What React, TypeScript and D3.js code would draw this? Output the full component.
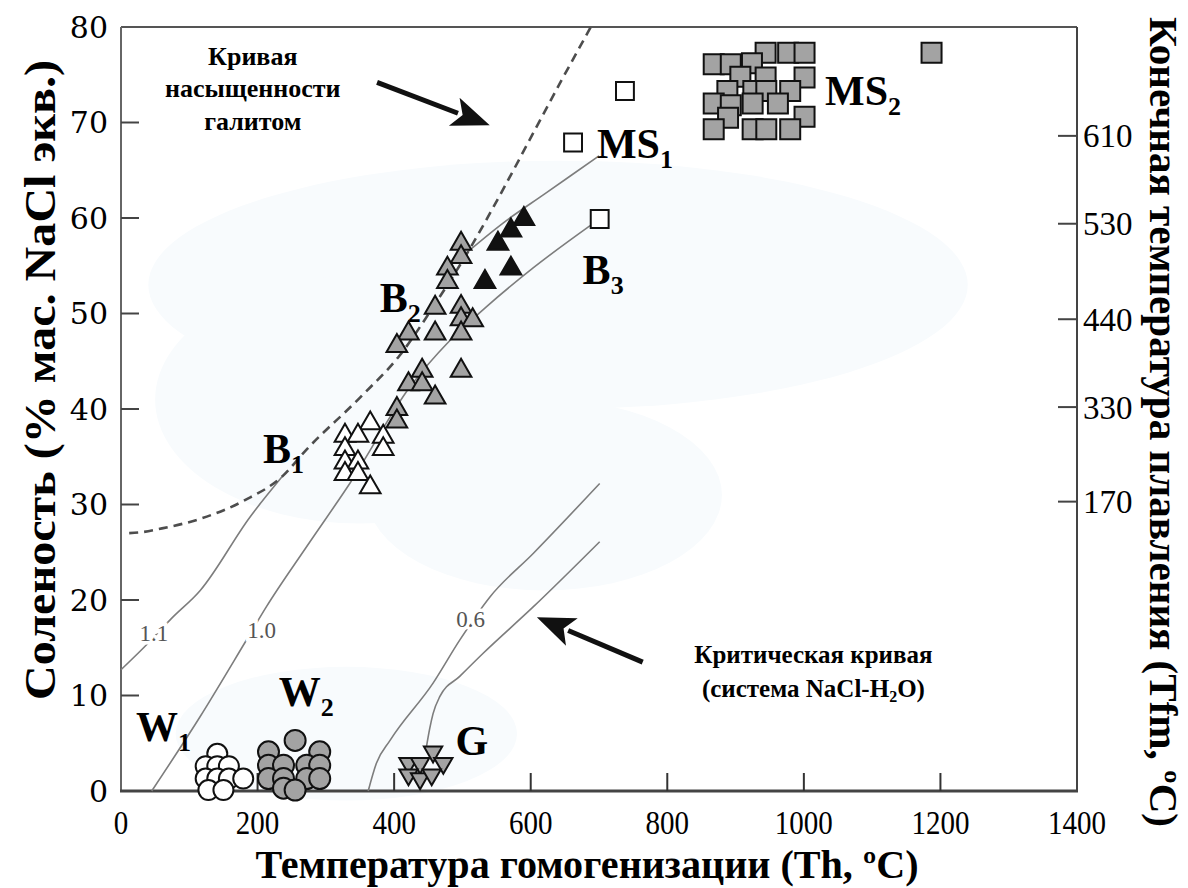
import * as d3 from "d3";
import * as React from "react";

type Pt = [number, number];

// axes
const xTicks = [0, 200, 400, 600, 800, 1000, 1200, 1400];
const yTicks = [0, 10, 20, 30, 40, 50, 60, 70, 80];
const tfmLabels = ["170", "330", "440", "530", "610"];
const tfmAt = [30.3, 40.2, 49.4, 59.4, 68.6]; // salinity where each Tfm tick sits

// curves (Th, salinity)
const haliteCurve: Pt[] = [[12, 27], [30, 27.1], [60, 27.5], [116, 28.5], [180, 30.4], [237, 33], [271, 35.7], [350, 41.2], [408, 45.6], [460, 51], [511, 56.8], [555, 62.4], [603, 68.8], [645, 74.4], [688, 80]];
const iso11: Pt[] = [[0, 12.7], [40, 15.5], [73, 18], [116, 21], [189, 28.7], [237, 33]];
const iso10: Pt[] = [[45, 0], [116, 7.8], [182, 15.6], [213, 19.3], [272, 25.6], [335, 32.2], [423, 42.3], [482, 47.2], [535, 50.7], [604, 54.8], [687, 59.2]];
const isoUpper: Pt[] = [[500, 56], [560, 59.5], [620, 62.5], [700, 66.5]];
const iso06: Pt[] = [[362, 0], [374, 2.9], [394, 5.3], [457, 11.3], [496, 15.8], [540, 20.3], [604, 24.9], [701, 32.2]];
const criticalCurve: Pt[] = [[447, 4.5], [452, 6.5], [457, 8.1], [467, 9.9], [496, 12], [530, 14.4], [604, 19.3], [701, 26.1]];

const isoLabels = ["1.1", "1.0", "0.6"];
const isoLabelAt: Pt[] = [[48, 16.6], [206, 16.9], [512, 18]];

// inclusions
const w1: Pt[] = [[141, 3.9], [124, 2.6], [141, 2.6], [158, 2.6], [124, 1.3], [141, 1.3], [158, 1.3], [179, 1.3], [128, 0.1], [150, 0.1]];
const w2: Pt[] = [[255, 5.3], [216, 4.1], [291, 4.1], [216, 2.7], [238, 2.7], [272, 2.7], [291, 2.7], [216, 1.3], [238, 1.3], [272, 1.3], [291, 1.3], [238, 0.3], [255, 0.1]];
const gPts: Pt[] = [[457, 4.1], [421, 2.9], [438, 2.9], [472, 2.9], [421, 1.7], [438, 1.3], [455, 1.7]];
const b1: Pt[] = [[365, 38.5], [328, 37.2], [347, 37.2], [384, 37.1], [384, 35.8], [328, 35.8], [328, 34.4], [347, 34.4], [328, 33.2], [347, 33.2], [365, 31.8]];
const b2: Pt[] = [[498, 57.3], [498, 55.9], [478, 54.7], [478, 53.3], [460, 50.6], [498, 50.7], [498, 49.4], [515, 49.3], [421, 47.9], [460, 47.9], [498, 47.9], [404, 46.6], [441, 44], [498, 44], [421, 42.6], [441, 42.6], [460, 41.2], [404, 40], [404, 38.7]];
const b3black: Pt[] = [[533, 53.3], [571, 54.7], [590, 59.9], [552, 57.3], [571, 58.7]];
const openSquares: Pt[] = [[662, 67.9], [738, 73.3], [701, 59.9]];
const ms2: Pt[] = [[944, 77.3], [977, 77.3], [1001, 77.3], [1187, 77.3], [868, 76.1], [893, 76.1], [924, 76.2], [907, 74.8], [944, 74.7], [1001, 74.7], [888, 73.3], [926, 73.3], [945, 73.3], [980, 73.3], [868, 72], [893, 71.8], [925, 72], [962, 72], [889, 70.5], [1001, 70.6], [868, 69.3], [925, 69.3], [945, 69.3], [980, 69.3]];

const groupNames = ["MS", "MS", "B", "B", "B", "W", "W", "G"];
const groupSubs = ["1", "2", "1", "2", "3", "1", "2", ""];
const groupAt: Pt[] = [[697, 66.3], [1031, 71.8], [208, 34.3], [379, 50.2], [676, 53.1], [22, 5.2], [231, 8.9], [490, 3.8]];

const haliteNote = ["Кривая", "насыщенности", "галитом"];
const haliteNoteAt: Pt = [193, 76.05];
const arrows: [Pt, Pt][] = [[[375, 74.2], [540, 69.7]], [[764, 13.5], [609, 18.2]]];
const criticalNoteAt: Pt = [1014, 13.4];

// faint background washes [Th, S, rTh, rS]
const blobs = [[640, 53, 600, 13], [350, 41, 300, 13], [620, 31, 260, 10], [330, 6, 250, 7]];

const SERIF = "'Liberation Serif', 'Times New Roman', serif";
const GRAY = "#a3a3a3";

export default function App() {
  const W = 1188, H = 888;
  const x = d3.scaleLinear().domain([0, 1400]).range([121, 1077]);
  const y = d3.scaleLinear().domain([0, 80]).range([791, 27]);
  const line = d3.line<Pt>().x(d => x(d[0])).y(d => y(d[1])).curve(d3.curveMonotoneX);

  const tri = d3.symbol().type(d3.symbolTriangle).size(185)() as string;
  const triSmall = d3.symbol().type(d3.symbolTriangle).size(145)() as string;
  const sq = d3.symbol().type(d3.symbolSquare).size(400)() as string;
  const sqSmall = d3.symbol().type(d3.symbolSquare).size(320)() as string;

  const marks = (pts: Pt[], path: string, fill: string, rot = 0) =>
    pts.map((d, i) => (
      <path key={i} d={path} fill={fill} stroke="#111" strokeWidth={2}
        transform={`translate(${x(d[0])},${y(d[1])}) rotate(${rot})`} />
    ));
  const circles = (pts: Pt[], fill: string, r: number) =>
    pts.map((d, i) => (
      <circle key={i} cx={x(d[0])} cy={y(d[1])} r={r} fill={fill} stroke="#111" strokeWidth={2} />
    ));

  const arrow = (a: Pt, b: Pt, k: number) => {
    const x0 = x(a[0]), y0 = y(a[1]), x1 = x(b[0]), y1 = y(b[1]);
    const ang = Math.atan2(y1 - y0, x1 - x0);
    const hl = 38, hw = 15;
    const bx = x1 - hl * Math.cos(ang), by = y1 - hl * Math.sin(ang);
    const px = -Math.sin(ang) * hw, py = Math.cos(ang) * hw;
    return (
      <g key={k}>
        <line x1={x0} y1={y0} x2={bx + 4 * Math.cos(ang)} y2={by + 4 * Math.sin(ang)} stroke="#111" strokeWidth={5} />
        <polygon points={`${x1},${y1} ${bx + px},${by + py} ${bx + 9 * Math.cos(ang)},${by + 9 * Math.sin(ang)} ${bx - px},${by - py}`} fill="#111" />
      </g>
    );
  };

  return (
    <div style={{ position: "absolute", left: 0, top: 0 }}>
      <svg width={W} height={H} style={{ display: "block", background: "#fff" }}>
        {blobs.map((b, i) => (
          <ellipse key={i} cx={x(b[0])} cy={y(b[1])} rx={x(b[2]) - x(0)} ry={y(0) - y(b[3])} fill="#f8fbfd" />
        ))}

        {/* frame */}
        <line x1={121} y1={27} x2={1077} y2={27} stroke="#555" strokeWidth={2} />
        <line x1={121} y1={27} x2={121} y2={791} stroke="#666" strokeWidth={2} />
        <line x1={1077} y1={27} x2={1077} y2={792} stroke="#444" strokeWidth={2} />
        <line x1={120} y1={791} x2={1078} y2={791} stroke="#444" strokeWidth={3} />

        {xTicks.slice(1, -1).map(t => (
          <line key={t} x1={x(t)} x2={x(t)} y1={791} y2={773} stroke="#333" strokeWidth={2} />
        ))}
        {yTicks.slice(1, -1).map(t => (
          <line key={t} x1={121} x2={139} y1={y(t)} y2={y(t)} stroke="#444" strokeWidth={2} />
        ))}
        {tfmAt.map((s, i) => (
          <line key={i} x1={1058} x2={1077} y1={y(s)} y2={y(s)} stroke="#444" strokeWidth={2} />
        ))}

        {xTicks.map(t => (
          <text key={t} x={x(t)} y={834} textAnchor="middle" fontFamily={SERIF} fontSize={33}
            textLength={String(t).length * 14.5} lengthAdjust="spacingAndGlyphs">{t}</text>
        ))}
        {yTicks.map(t => (
          <text key={t} x={108} y={y(t)} dy="0.36em" textAnchor="end" fontFamily="'DejaVu Serif', serif" fontSize={30}>{t}</text>
        ))}
        {tfmLabels.map((l, i) => (
          <text key={l} x={1083} y={y(tfmAt[i])} dy="0.35em" fontFamily={SERIF} fontSize={33}>{l}</text>
        ))}

        <text transform="translate(40,380) rotate(-90)" dy="0.35em" textAnchor="middle" fontFamily={SERIF} fontWeight="bold" fontSize={44} textLength={640} lengthAdjust="spacingAndGlyphs">Соленость (% мас. NaCl экв.)</text>
        <text x={587} y={878} textAnchor="middle" fontFamily={SERIF} fontWeight="bold" fontSize={40} textLength={663} lengthAdjust="spacingAndGlyphs">Температура гомогенизации (Th, ºC)</text>
        <text transform="translate(1164,422) rotate(90)" dy="0.35em" textAnchor="middle" fontFamily={SERIF} fontWeight="bold" fontSize={40} textLength={810} lengthAdjust="spacingAndGlyphs">Конечная температура плавления (Tfm, ºC)</text>

        {/* curves */}
        {[iso11, iso10, isoUpper, iso06, criticalCurve].map((c, i) => (
          <path key={i} d={line(c) as string} fill="none" stroke="#7d7d7d" strokeWidth={1.6} />
        ))}
        <path d={line(haliteCurve) as string} fill="none" stroke="#4d4d4d" strokeWidth={2.6} strokeDasharray="9,6" />
        {isoLabels.map((l, i) => (
          <text key={l} x={x(isoLabelAt[i][0])} y={y(isoLabelAt[i][1])} dy="0.35em" textAnchor="middle" fontFamily={SERIF} fontSize={23} fill="#555" stroke="#fff" strokeWidth={7} paintOrder="stroke">{l}</text>
        ))}

        {/* inclusions */}
        {circles(w1, "#fff", 10)}
        {circles(w2, GRAY, 10.5)}
        {marks(gPts, triSmall, GRAY, 180)}
        {marks(b1, tri, "#fff")}
        {marks(b2, tri, GRAY)}
        {marks(b3black, tri, "#111")}
        {marks(openSquares, sqSmall, "#fff")}
        {marks(ms2, sq, GRAY)}

        {groupNames.map((n, i) => (
          <text key={i} x={x(groupAt[i][0])} y={y(groupAt[i][1])} fontFamily={SERIF} fontWeight="bold" fontSize={42}>
            {n}<tspan fontSize={26} dy={10}>{groupSubs[i]}</tspan>
          </text>
        ))}

        {/* annotations */}
        {haliteNote.map((l, i) => (
          <text key={l} x={x(haliteNoteAt[0])} y={y(haliteNoteAt[1]) + i * 32.5} textAnchor="middle" fontFamily={SERIF} fontWeight="bold" fontSize={26}>{l}</text>
        ))}
        <text x={x(criticalNoteAt[0])} y={y(criticalNoteAt[1])} textAnchor="middle" fontFamily={SERIF} fontWeight="bold" fontSize={25}>Критическая кривая</text>
        <text x={x(criticalNoteAt[0])} y={y(criticalNoteAt[1]) + 34} textAnchor="middle" fontFamily={SERIF} fontWeight="bold" fontSize={25}>
          (система NaCl-H<tspan fontSize={16} dy={5}>2</tspan><tspan dy={-5}>O)</tspan>
        </text>
        {arrows.map((a, i) => arrow(a[0], a[1], i))}
      </svg>
    </div>
  );
}
